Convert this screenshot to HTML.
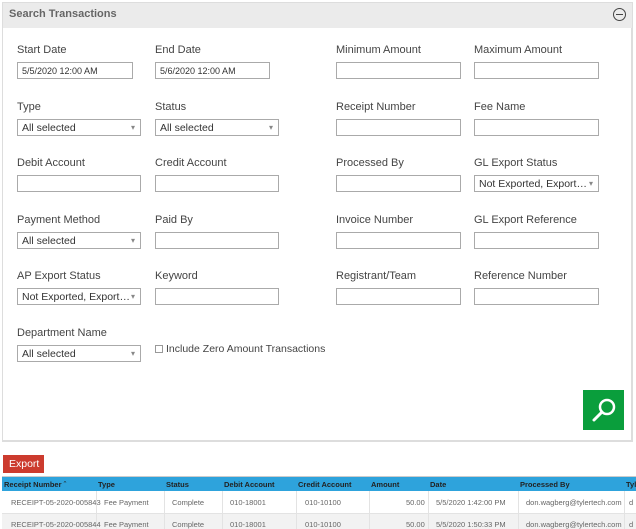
<!DOCTYPE html>
<html><head><style>
*{box-sizing:border-box;margin:0;padding:0}
body{width:636px;height:529px;background:#fff;font-family:"Liberation Sans",sans-serif;position:relative;overflow:hidden;color:#333}
.a{position:absolute}
.lbl{position:absolute;font-size:11px;color:#444}
.in{position:absolute;height:17px;border:1px solid #aaa;background:#fff;font-size:9px;padding:3px 0 0 4px;color:#333}
.sel{position:absolute;height:17px;border:1px solid #aaa;background:#fff;font-size:10.5px;padding:2px 0 0 4px;color:#333}
.sel:after{content:"▾";position:absolute;right:5px;top:3px;font-size:8px;color:#888}
.th{position:absolute;top:480px;font-size:7.5px;font-weight:bold;color:#222}
.td{position:absolute;font-size:7.5px;color:#666}
.vd{position:absolute;top:491px;width:1px;height:38px;background:#e3e3e3}
</style></head><body>
<div class="a" style="left:2px;top:2px;width:631px;height:440px;border:1px solid #ddd;border-right:2px solid #ddd;border-bottom:2px solid #ddd"></div>
<div class="a" style="left:3px;top:3px;width:629px;height:25px;background:#ebebeb"></div>
<div class="a" style="left:9px;top:8px;font-size:11px;font-weight:bold;color:#666">Search Transactions</div>
<div class="a" style="left:613px;top:8px;width:13px;height:13px;border:1px solid #444;border-radius:50%"></div>
<div class="a" style="left:616px;top:14px;width:7px;height:1px;background:#444"></div>

<div class="lbl" style="left:17px;top:44px">Start Date</div>
<div class="lbl" style="left:155px;top:44px">End Date</div>
<div class="lbl" style="left:336px;top:44px">Minimum Amount</div>
<div class="lbl" style="left:474px;top:44px">Maximum Amount</div>
<div class="in" style="left:17px;top:62px;width:116px">5/5/2020 12:00 AM</div>
<div class="in" style="left:155px;top:62px;width:115px">5/6/2020 12:00 AM</div>
<div class="in" style="left:336px;top:62px;width:125px"></div>
<div class="in" style="left:474px;top:62px;width:125px"></div>

<div class="lbl" style="left:17px;top:101px">Type</div>
<div class="lbl" style="left:155px;top:101px">Status</div>
<div class="lbl" style="left:336px;top:101px">Receipt Number</div>
<div class="lbl" style="left:474px;top:101px">Fee Name</div>
<div class="sel" style="left:17px;top:119px;width:124px">All selected</div>
<div class="sel" style="left:155px;top:119px;width:124px">All selected</div>
<div class="in" style="left:336px;top:119px;width:125px"></div>
<div class="in" style="left:474px;top:119px;width:125px"></div>

<div class="lbl" style="left:17px;top:157px">Debit Account</div>
<div class="lbl" style="left:155px;top:157px">Credit Account</div>
<div class="lbl" style="left:336px;top:157px">Processed By</div>
<div class="lbl" style="left:474px;top:157px">GL Export Status</div>
<div class="in" style="left:17px;top:175px;width:124px"></div>
<div class="in" style="left:155px;top:175px;width:124px"></div>
<div class="in" style="left:336px;top:175px;width:125px"></div>
<div class="sel" style="left:474px;top:175px;width:125px">Not Exported, Export…</div>

<div class="lbl" style="left:17px;top:214px">Payment Method</div>
<div class="lbl" style="left:155px;top:214px">Paid By</div>
<div class="lbl" style="left:336px;top:214px">Invoice Number</div>
<div class="lbl" style="left:474px;top:214px">GL Export Reference</div>
<div class="sel" style="left:17px;top:232px;width:124px">All selected</div>
<div class="in" style="left:155px;top:232px;width:124px"></div>
<div class="in" style="left:336px;top:232px;width:125px"></div>
<div class="in" style="left:474px;top:232px;width:125px"></div>

<div class="lbl" style="left:17px;top:270px">AP Export Status</div>
<div class="lbl" style="left:155px;top:270px">Keyword</div>
<div class="lbl" style="left:336px;top:270px">Registrant/Team</div>
<div class="lbl" style="left:474px;top:270px">Reference Number</div>
<div class="sel" style="left:17px;top:288px;width:124px">Not Exported, Export…</div>
<div class="in" style="left:155px;top:288px;width:124px"></div>
<div class="in" style="left:336px;top:288px;width:125px"></div>
<div class="in" style="left:474px;top:288px;width:125px"></div>

<div class="lbl" style="left:17px;top:327px">Department Name</div>
<div class="sel" style="left:17px;top:345px;width:124px">All selected</div>
<div class="a" style="left:155px;top:345px;width:8px;height:8px;border:1px solid #999"></div>
<div class="lbl" style="left:166px;top:343px;font-size:10.5px">Include Zero Amount Transactions</div>

<div class="a" style="left:583px;top:390px;width:41px;height:40px;background:#0a9e3c"></div>
<svg class="a" style="left:583px;top:390px" width="41" height="40"><circle cx="24" cy="17" r="7" fill="none" stroke="#fff" stroke-width="2.5"/><line x1="19" y1="22" x2="11" y2="30" stroke="#fff" stroke-width="3" stroke-linecap="round"/></svg>

<div class="a" style="left:3px;top:455px;width:41px;height:18px;background:#cc3b2e;color:#fff;font-size:10.5px;padding:3px 0 0 6px">Export</div>

<div class="a" style="left:2px;top:476px;width:634px;height:15px;background:#2ea3dc;border-top:1px solid #ccc"></div>
<div class="th" style="left:4px">Receipt Number ˆ</div>
<div class="th" style="left:98px">Type</div>
<div class="th" style="left:166px">Status</div>
<div class="th" style="left:224px">Debit Account</div>
<div class="th" style="left:298px">Credit Account</div>
<div class="th" style="left:371px">Amount</div>
<div class="th" style="left:430px">Date</div>
<div class="th" style="left:520px">Processed By</div>
<div class="th" style="left:626px">Tyl</div>
<div class="a" style="left:2px;top:513px;width:634px;height:16px;background:#f2f2f2;border-top:1px solid #e3e3e3"></div>
<div class="vd" style="left:96px"></div><div class="vd" style="left:164px"></div><div class="vd" style="left:222px"></div><div class="vd" style="left:296px"></div><div class="vd" style="left:369px"></div><div class="vd" style="left:428px"></div><div class="vd" style="left:518px"></div><div class="vd" style="left:624px"></div>
<div class="td" style="left:11px;top:498px">RECEIPT-05-2020-005843</div>
<div class="td" style="left:104px;top:498px">Fee Payment</div>
<div class="td" style="left:172px;top:498px">Complete</div>
<div class="td" style="left:230px;top:498px">010-18001</div>
<div class="td" style="left:305px;top:498px">010-10100</div>
<div class="td" style="left:406px;top:498px">50.00</div>
<div class="td" style="left:436px;top:498px">5/5/2020 1:42:00 PM</div>
<div class="td" style="left:526px;top:498px">don.wagberg@tylertech.com</div>
<div class="td" style="left:629px;top:498px">d</div>
<div class="td" style="left:11px;top:520px">RECEIPT-05-2020-005844</div>
<div class="td" style="left:104px;top:520px">Fee Payment</div>
<div class="td" style="left:172px;top:520px">Complete</div>
<div class="td" style="left:230px;top:520px">010-18001</div>
<div class="td" style="left:305px;top:520px">010-10100</div>
<div class="td" style="left:406px;top:520px">50.00</div>
<div class="td" style="left:436px;top:520px">5/5/2020 1:50:33 PM</div>
<div class="td" style="left:526px;top:520px">don.wagberg@tylertech.com</div>
<div class="td" style="left:629px;top:520px">d</div>
</body></html>
